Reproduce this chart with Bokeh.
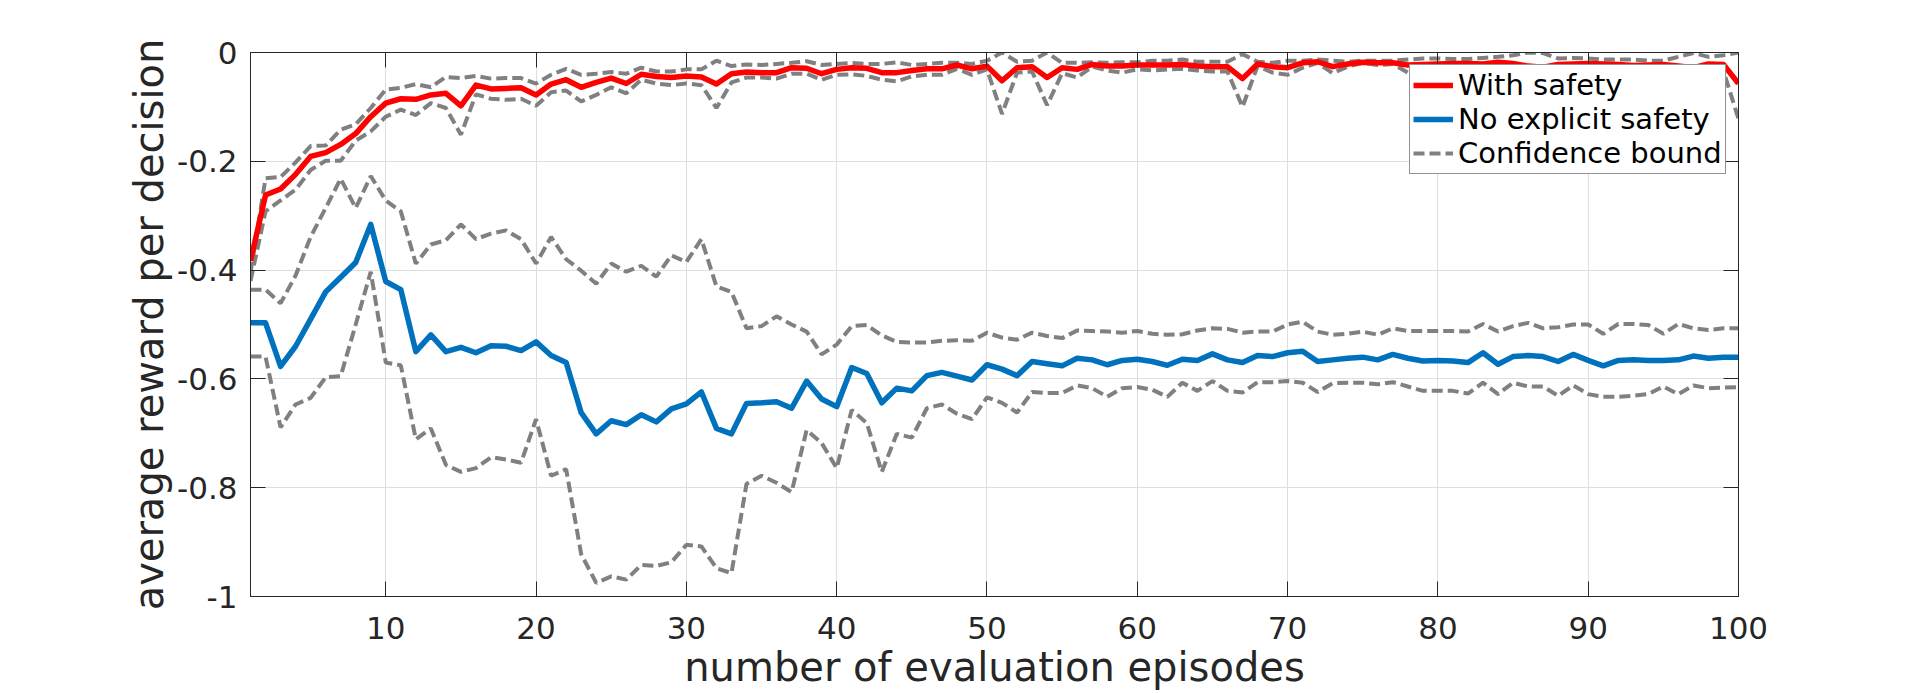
from bokeh.plotting import figure
from bokeh.models import (Range1d, LinearAxis, FixedTicker, CustomJSTickFormatter,
                          Legend, LegendItem, ColumnDataSource)
from bokeh.embed import file_html
from bokeh.resources import INLINE

episodes = list(range(1, 101))

with_safety = [
    -0.383, -0.262, -0.251, -0.224, -0.191, -0.184, -0.169, -0.149, -0.118, -0.093,
    -0.085, -0.086, -0.078, -0.075, -0.098, -0.060, -0.067, -0.066, -0.065, -0.078,
    -0.058, -0.050, -0.064, -0.055, -0.047, -0.057, -0.040, -0.044, -0.046, -0.043,
    -0.045, -0.058, -0.039, -0.036, -0.037, -0.037, -0.028, -0.029, -0.039, -0.031,
    -0.028, -0.029, -0.037, -0.037, -0.033, -0.030, -0.030, -0.023, -0.030, -0.025,
    -0.052, -0.028, -0.026, -0.046, -0.028, -0.031, -0.022, -0.025, -0.025, -0.023,
    -0.023, -0.023, -0.022, -0.025, -0.026, -0.026, -0.048, -0.021, -0.026, -0.028,
    -0.019, -0.017, -0.026, -0.021, -0.018, -0.019, -0.019, -0.023, -0.022, -0.021,
    -0.020, -0.020, -0.021, -0.018, -0.020, -0.025, -0.027, -0.022, -0.021, -0.020,
    -0.021, -0.022, -0.024, -0.023, -0.022, -0.025, -0.028, -0.021, -0.022, -0.057,
]
with_safety_upper = [
    -0.405, -0.231, -0.229, -0.202, -0.172, -0.171, -0.142, -0.132, -0.102, -0.068,
    -0.065, -0.058, -0.064, -0.045, -0.047, -0.043, -0.048, -0.047, -0.047, -0.057,
    -0.041, -0.030, -0.041, -0.039, -0.036, -0.039, -0.028, -0.035, -0.035, -0.031,
    -0.031, -0.015, -0.025, -0.022, -0.023, -0.021, -0.019, -0.016, -0.023, -0.021,
    -0.019, -0.021, -0.021, -0.018, -0.023, -0.021, -0.019, -0.019, -0.021, -0.015,
    0.000, -0.017, -0.015, 0.000, -0.019, -0.019, -0.018, -0.019, -0.018, -0.018,
    -0.015, -0.015, -0.013, -0.017, -0.017, -0.017, -0.003, -0.017, -0.019, -0.015,
    -0.015, -0.013, -0.015, -0.017, -0.015, -0.015, -0.015, -0.013, -0.011, -0.011,
    -0.012, -0.012, -0.010, -0.008, -0.005, 0.000, -0.001, -0.011, -0.010, -0.011,
    -0.013, -0.013, -0.013, -0.015, -0.015, -0.008, -0.001, -0.008, -0.005, 0.000,
]
with_safety_lower = [
    -0.420, -0.292, -0.272, -0.252, -0.216, -0.199, -0.199, -0.162, -0.145, -0.118,
    -0.105, -0.115, -0.093, -0.102, -0.151, -0.077, -0.085, -0.087, -0.085, -0.098,
    -0.073, -0.070, -0.090, -0.078, -0.064, -0.075, -0.050, -0.057, -0.060, -0.057,
    -0.060, -0.102, -0.055, -0.046, -0.046, -0.048, -0.039, -0.039, -0.050, -0.041,
    -0.040, -0.043, -0.050, -0.053, -0.044, -0.041, -0.041, -0.030, -0.041, -0.031,
    -0.113, -0.037, -0.035, -0.097, -0.038, -0.046, -0.026, -0.033, -0.037, -0.031,
    -0.033, -0.031, -0.030, -0.033, -0.035, -0.035, -0.100, -0.025, -0.037, -0.041,
    -0.028, -0.019, -0.038, -0.026, -0.019, -0.023, -0.021, -0.037, -0.030, -0.032,
    -0.030, -0.031, -0.033, -0.030, -0.032, -0.038, -0.040, -0.033, -0.031, -0.030,
    -0.032, -0.033, -0.035, -0.034, -0.033, -0.037, -0.040, -0.032, -0.034, -0.122,
]
no_safety = [
    -0.497, -0.497, -0.577, -0.540, -0.490, -0.440, -0.413, -0.386, -0.316, -0.421,
    -0.436, -0.550, -0.519, -0.550, -0.542, -0.552, -0.539, -0.540, -0.548, -0.532,
    -0.557, -0.570, -0.662, -0.701, -0.677, -0.684, -0.666, -0.679, -0.655, -0.646,
    -0.624, -0.691, -0.701, -0.645, -0.644, -0.642, -0.654, -0.604, -0.637, -0.651,
    -0.579, -0.590, -0.644, -0.617, -0.622, -0.594, -0.588, -0.595, -0.602, -0.574,
    -0.582, -0.594, -0.568, -0.572, -0.576, -0.562, -0.565, -0.574, -0.566, -0.564,
    -0.568, -0.575, -0.564, -0.566, -0.554, -0.565, -0.570, -0.557, -0.559, -0.552,
    -0.549, -0.568, -0.565, -0.562, -0.560, -0.565, -0.555, -0.562, -0.567, -0.566,
    -0.567, -0.570, -0.552, -0.573, -0.559, -0.557, -0.559, -0.568, -0.555, -0.566,
    -0.576, -0.566, -0.565, -0.566, -0.566, -0.565, -0.558, -0.562, -0.560, -0.560,
]
no_safety_upper = [
    -0.436, -0.436, -0.461, -0.410, -0.339, -0.286, -0.232, -0.286, -0.227, -0.272,
    -0.292, -0.388, -0.353, -0.345, -0.316, -0.343, -0.333, -0.327, -0.343, -0.388,
    -0.339, -0.380, -0.401, -0.425, -0.388, -0.403, -0.392, -0.412, -0.373, -0.385,
    -0.343, -0.430, -0.440, -0.507, -0.503, -0.485, -0.500, -0.513, -0.555, -0.537,
    -0.503, -0.501, -0.520, -0.532, -0.533, -0.533, -0.530, -0.529, -0.530, -0.515,
    -0.524, -0.528, -0.515, -0.521, -0.525, -0.511, -0.512, -0.513, -0.515, -0.512,
    -0.517, -0.519, -0.518, -0.511, -0.507, -0.508, -0.515, -0.513, -0.513, -0.500,
    -0.495, -0.513, -0.519, -0.517, -0.513, -0.519, -0.507, -0.512, -0.512, -0.512,
    -0.512, -0.513, -0.499, -0.513, -0.503, -0.497, -0.507, -0.505, -0.500, -0.500,
    -0.517, -0.499, -0.499, -0.501, -0.517, -0.499, -0.507, -0.510, -0.507, -0.507,
]
no_safety_lower = [
    -0.559, -0.559, -0.689, -0.647, -0.635, -0.597, -0.595, -0.500, -0.403, -0.570,
    -0.575, -0.711, -0.691, -0.758, -0.771, -0.764, -0.744, -0.748, -0.754, -0.674,
    -0.778, -0.766, -0.922, -0.975, -0.963, -0.969, -0.942, -0.944, -0.937, -0.905,
    -0.908, -0.948, -0.957, -0.793, -0.778, -0.791, -0.808, -0.694, -0.718, -0.764,
    -0.657, -0.681, -0.771, -0.701, -0.708, -0.654, -0.647, -0.664, -0.674, -0.634,
    -0.644, -0.662, -0.624, -0.626, -0.626, -0.612, -0.617, -0.633, -0.617, -0.615,
    -0.620, -0.633, -0.607, -0.622, -0.604, -0.622, -0.625, -0.606, -0.606, -0.604,
    -0.607, -0.624, -0.608, -0.607, -0.607, -0.610, -0.606, -0.614, -0.622, -0.622,
    -0.622, -0.627, -0.607, -0.628, -0.607, -0.614, -0.614, -0.631, -0.612, -0.628,
    -0.633, -0.633, -0.631, -0.628, -0.614, -0.628, -0.612, -0.617, -0.616, -0.615,
]

x_ticks = [10, 20, 30, 40, 50, 60, 70, 80, 90, 100]
y_ticks = [0, -0.2, -0.4, -0.6, -0.8, -1]
y_tick_labels = {0: "0", -0.2: "-0.2", -0.4: "-0.4", -0.6: "-0.6", -0.8: "-0.8", -1: "-1"}
legend_labels = ["With safety", "No explicit safety", "Confidence bound"]
x_label = "number of evaluation episodes"
y_label = "average reward per decision"

RED = "#ff0000"
BLUE = "#0072bd"
GREY = "#808080"
AX = "#262626"
FONT = "DejaVu Sans"

p = figure(width=1920, height=693, output_backend="svg", toolbar_location=None,
           x_range=Range1d(1, 100), y_range=Range1d(-1, 0),
           min_border_left=250, min_border_right=182, min_border_top=52, min_border_bottom=97)
p.background_fill_color = "white"
p.border_fill_color = "white"
p.outline_line_color = AX
p.outline_line_width = 1

src = ColumnDataSource(dict(x=episodes, ws=with_safety, wsu=with_safety_upper, wsl=with_safety_lower,
                            ns=no_safety, nsu=no_safety_upper, nsl=no_safety_lower))

dash = "11 5"
g1 = p.line("x", "wsu", source=src, line_color=GREY, line_width=4, line_dash=dash)
g2 = p.line("x", "wsl", source=src, line_color=GREY, line_width=4, line_dash=dash)
g3 = p.line("x", "nsu", source=src, line_color=GREY, line_width=4, line_dash=dash)
g4 = p.line("x", "nsl", source=src, line_color=GREY, line_width=4, line_dash=dash)
r_red = p.line("x", "ws", source=src, line_color=RED, line_width=5.5, line_join="round")
r_blue = p.line("x", "ns", source=src, line_color=BLUE, line_width=5.5, line_join="round")

def style_axis(ax, show_labels=True):
    ax.axis_line_color = AX
    ax.major_tick_line_color = AX
    ax.major_tick_in = 15
    ax.major_tick_out = 0
    ax.minor_tick_line_color = None
    ax.major_label_text_font = FONT
    ax.major_label_text_font_size = "31px"
    ax.major_label_text_color = AX
    ax.axis_label_text_font = FONT
    ax.axis_label_text_font_size = "40px"
    ax.axis_label_text_font_style = "normal"
    ax.axis_label_text_color = AX
    if not show_labels:
        ax.formatter = CustomJSTickFormatter(code="return ''")

xa = p.xaxis[0]
ya = p.yaxis[0]
xa.ticker = FixedTicker(ticks=x_ticks)
ya.ticker = FixedTicker(ticks=y_ticks)
ya.major_label_overrides = y_tick_labels
style_axis(xa)
style_axis(ya)
xa.axis_label = x_label
ya.axis_label = y_label
xa.major_label_standoff = 20
ya.major_label_standoff = 13
xa.axis_label_standoff = 2
ya.axis_label_standoff = 2
xa.major_label_text_line_height = 1.0
xa.axis_label_text_line_height = 1.0

xa2 = LinearAxis(ticker=FixedTicker(ticks=x_ticks))
ya2 = LinearAxis(ticker=FixedTicker(ticks=y_ticks))
style_axis(xa2, False)
style_axis(ya2, False)
xa2.major_label_standoff = 0
ya2.major_label_standoff = 0
p.add_layout(xa2, "above")
p.add_layout(ya2, "right")

p.xgrid.ticker = FixedTicker(ticks=x_ticks)
p.ygrid.ticker = FixedTicker(ticks=y_ticks)
p.xgrid.grid_line_color = "#dedede"
p.ygrid.grid_line_color = "#dedede"

legend = Legend(items=[LegendItem(label=legend_labels[0], renderers=[r_red]),
                       LegendItem(label=legend_labels[1], renderers=[r_blue]),
                       LegendItem(label=legend_labels[2], renderers=[g1])],
                location="top_right")
legend.margin = 12
legend.padding = 3
legend.spacing = 0
legend.glyph_width = 40
legend.label_standoff = 5
legend.label_width = 264
legend.label_text_font = FONT
legend.label_text_font_size = "29px"
legend.label_text_line_height = 1.1
legend.label_text_color = "black"
legend.border_line_color = AX
legend.border_line_width = 1
legend.background_fill_color = "white"
legend.background_fill_alpha = 1
p.add_layout(legend, "center")

open("out.html", "w").write(file_html(p, INLINE))
